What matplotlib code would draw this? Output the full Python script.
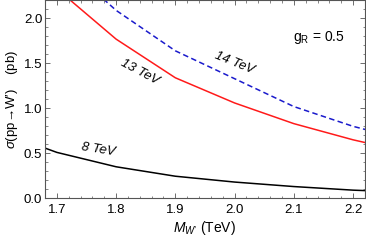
import matplotlib
matplotlib.use('Agg')
import matplotlib.pyplot as plt
from matplotlib.ticker import MultipleLocator, FormatStrFormatter

plt.rcParams['font.family'] = ['Liberation Sans', 'DejaVu Sans']
plt.rcParams['mathtext.fontset'] = 'custom'
plt.rcParams['mathtext.rm'] = 'Liberation Sans'
plt.rcParams['mathtext.it'] = 'Liberation Sans:italic'

# W' mass (TeV) and cross sections (pb)
mass = [1.6, 1.7, 1.8, 1.9, 2.0, 2.1, 2.2, 2.3]
sigma_8 = [0.75, 0.51, 0.35, 0.245, 0.18, 0.13, 0.09, 0.065]
sigma_13 = [3.1, 2.33, 1.77, 1.34, 1.06, 0.83, 0.65, 0.50]
sigma_14 = [3.5, 2.68, 2.09, 1.64, 1.33, 1.02, 0.80, 0.63]

fig = plt.figure(figsize=(3.66, 2.4), dpi=100)
ax = fig.add_axes([0.123, 0.174, 0.874, 0.824])

ax.plot(mass, sigma_8, color='black', lw=1.1)
ax.plot(mass, sigma_13, color='#ff1a1a', lw=1.1)
ax.plot(mass, sigma_14, color='#1a1acc', lw=1.1, linestyle=(0, (3.6, 2.2)))

ax.set_xlim(1.68, 2.22)
ax.set_ylim(0, 2.2)
ax.xaxis.set_major_locator(MultipleLocator(0.1))
ax.xaxis.set_minor_locator(MultipleLocator(0.02))
ax.yaxis.set_major_locator(MultipleLocator(0.5))
ax.yaxis.set_minor_locator(MultipleLocator(0.1))
ax.xaxis.set_major_formatter(FormatStrFormatter('%.1f'))
ax.yaxis.set_major_formatter(FormatStrFormatter('%.1f'))

frame = '#555555'
for s in ax.spines.values():
    s.set_color(frame)
    s.set_linewidth(0.8)
ax.tick_params(which='both', direction='in', top=True, right=True,
               color=frame, labelsize=9.5)
ax.tick_params(which='major', length=3.5, width=0.6)
ax.tick_params(which='minor', length=1.8, width=0.5)
ax.tick_params(axis='x', pad=4)
ax.tick_params(axis='y', pad=2)

ax.set_xlabel('$M_{W\u2019}$ (TeV)', fontsize=10, labelpad=2)
ax.set_ylabel('$\\sigma$(pp\u2192W\u2032)    (pb)', fontsize=9.5, labelpad=3)

ax.text(1.77, 0.54, '8 TeV', style='italic', fontsize=9.5, rotation=-9,
        ha='center', va='center')
ax.text(1.84, 1.40, '13 TeV', style='italic', fontsize=9.5, rotation=-28,
        ha='center', va='center')
ax.text(2.0, 1.51, '14 TeV', style='italic', fontsize=9.5, rotation=-22,
        ha='center', va='center')
ax.text(2.143, 1.79, 'g$_\\mathrm{R}$ = 0.5', fontsize=10, ha='center', va='center')

fig.savefig('out.png', dpi=100)
